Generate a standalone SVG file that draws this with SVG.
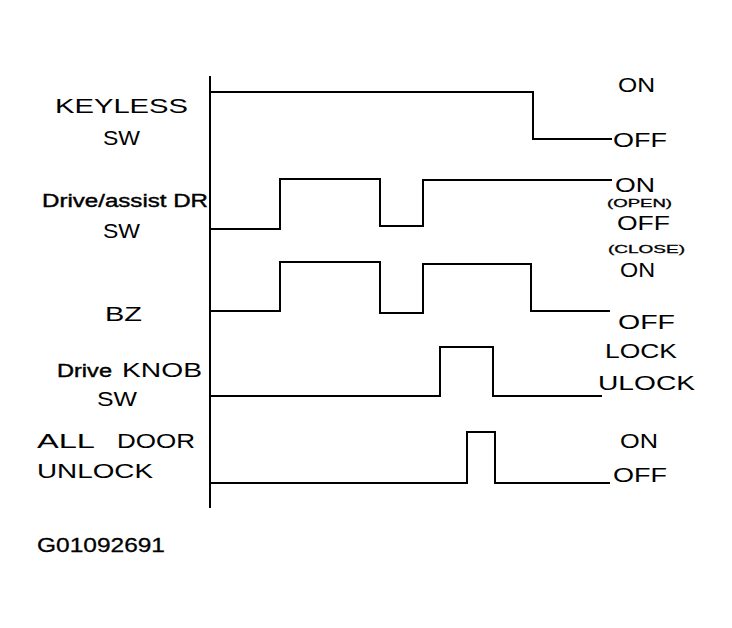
<svg xmlns="http://www.w3.org/2000/svg" width="732" height="628" viewBox="0 0 732 628">
<style>
.bg{fill:#fff}
.sig{fill:none;stroke:#000;stroke-width:2;stroke-linejoin:miter}
.ax{fill:none;stroke:#000;stroke-width:2}
.t{font-family:"Liberation Sans",Arial,sans-serif;font-size:21px;fill:#000}
.b{font-family:"Liberation Sans",Arial,sans-serif;font-size:18px;fill:#000;stroke:#000;stroke-width:0.4}
.s{font-family:"Liberation Sans",Arial,sans-serif;font-size:11px;fill:#000;stroke:#000;stroke-width:0.3}
.c{font-family:"Liberation Sans",Arial,sans-serif;font-size:21px;fill:#000;stroke:#000;stroke-width:0.3}
</style>
<rect class="bg" x="0" y="0" width="732" height="628"/>
<g id="connectors">
<line class="ax" x1="210" y1="76" x2="210" y2="508"/>
<path class="sig" d="M210 92 H533 V139 H612"/>
<path class="sig" d="M210 229 H280 V179 H380 V226 H423 V180 H612"/>
<path class="sig" d="M210 311 H280 V262 H380 V313 H423 V264 H531 V311 H610"/>
<path class="sig" d="M210 396 H440 V347 H493 V396 H602"/>
<path class="sig" d="M210 483 H467 V432 H495 V483 H610"/>
</g>
<g id="keyless">
<text class="t" x="55" y="113" textLength="133" lengthAdjust="spacingAndGlyphs">KEYLESS</text>
<text class="t" x="103" y="145" textLength="37" lengthAdjust="spacingAndGlyphs">SW</text>
<text class="t" x="618" y="92" textLength="37" lengthAdjust="spacingAndGlyphs">ON</text>
<text class="t" x="613" y="147" textLength="54" lengthAdjust="spacingAndGlyphs">OFF</text>
</g>
<g id="drive-assist">
<text class="b" x="42" y="207" textLength="166" lengthAdjust="spacingAndGlyphs">Drive/assist DR</text>
<text class="t" x="103" y="238" textLength="37" lengthAdjust="spacingAndGlyphs">SW</text>
<text class="t" x="615" y="192" textLength="40" lengthAdjust="spacingAndGlyphs">ON</text>
<text class="s" x="607" y="207" textLength="65" lengthAdjust="spacingAndGlyphs">(OPEN)</text>
<text class="t" x="617" y="230" textLength="53" lengthAdjust="spacingAndGlyphs">OFF</text>
<text class="s" x="608" y="253" textLength="77" lengthAdjust="spacingAndGlyphs">(CLOSE)</text>
</g>
<g id="bz">
<text class="t" x="105" y="321" textLength="37" lengthAdjust="spacingAndGlyphs">BZ</text>
<text class="t" x="620" y="277" textLength="35" lengthAdjust="spacingAndGlyphs">ON</text>
<text class="t" x="618" y="329" textLength="57" lengthAdjust="spacingAndGlyphs">OFF</text>
</g>
<g id="drive-knob">
<text class="b" x="57" y="377" textLength="55" lengthAdjust="spacingAndGlyphs">Drive</text>
<text class="t" x="122" y="377" textLength="80" lengthAdjust="spacingAndGlyphs">KNOB</text>
<text class="t" x="97" y="406" textLength="40" lengthAdjust="spacingAndGlyphs">SW</text>
<text class="t" x="605" y="358" textLength="72" lengthAdjust="spacingAndGlyphs">LOCK</text>
<text class="t" x="598" y="390" textLength="97" lengthAdjust="spacingAndGlyphs">ULOCK</text>
</g>
<g id="all-door">
<text class="t" x="37" y="448" textLength="58" lengthAdjust="spacingAndGlyphs">ALL</text>
<text class="t" x="117" y="448" textLength="78" lengthAdjust="spacingAndGlyphs">DOOR</text>
<text class="t" x="37" y="478" textLength="116" lengthAdjust="spacingAndGlyphs">UNLOCK</text>
<text class="t" x="620" y="448" textLength="38" lengthAdjust="spacingAndGlyphs">ON</text>
<text class="t" x="613" y="482" textLength="54" lengthAdjust="spacingAndGlyphs">OFF</text>
</g>
<g id="caption">
<text class="c" x="37" y="552" textLength="128" lengthAdjust="spacingAndGlyphs">G01092691</text>
</g>
</svg>
